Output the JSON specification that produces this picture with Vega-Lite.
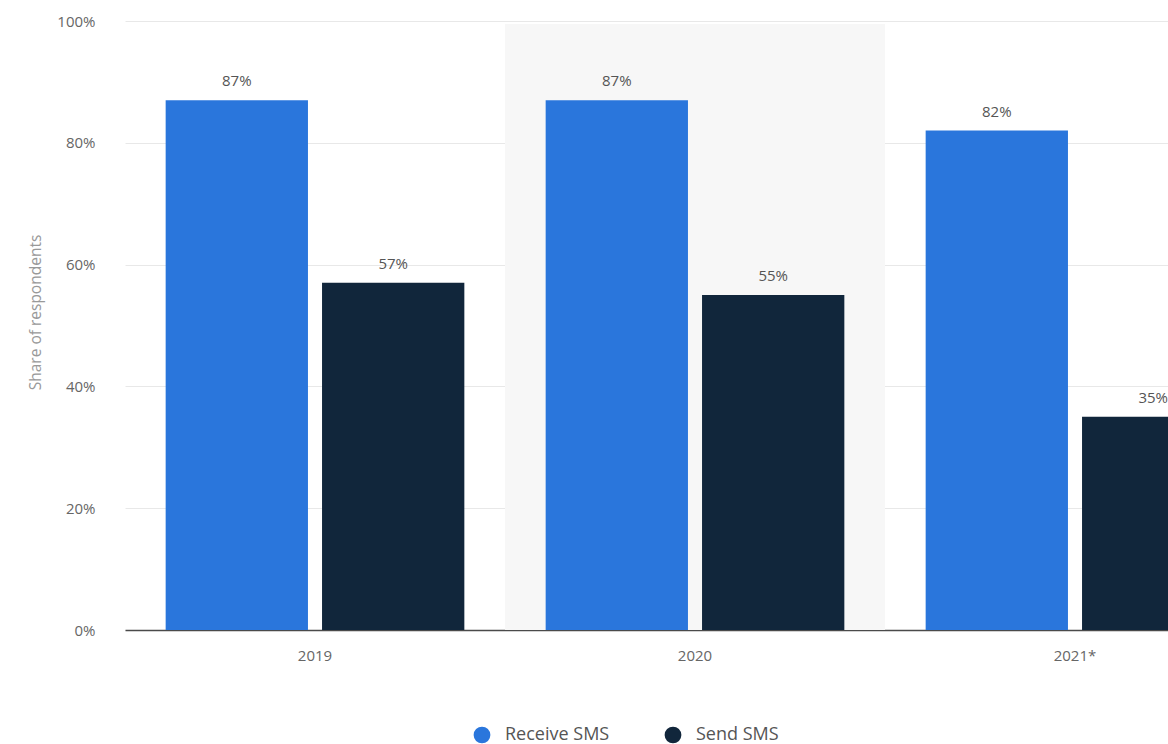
{
  "$schema": "https://vega.github.io/schema/vega-lite/v6.json",
  "width": 1043,
  "height": 609,
  "autosize": {"type": "none"},
  "padding": {"left": 125, "top": 21, "right": 0, "bottom": 114},
  "background": "white",
  "config": {"font": "Open Sans", "view": {"stroke": null}},
  "data": {
    "values": [
      {"year": "2019", "measure": "Receive SMS", "share": 0.87},
      {"year": "2019", "measure": "Send SMS", "share": 0.57},
      {"year": "2020", "measure": "Receive SMS", "share": 0.87},
      {"year": "2020", "measure": "Send SMS", "share": 0.55},
      {"year": "2021*", "measure": "Receive SMS", "share": 0.82},
      {"year": "2021*", "measure": "Send SMS", "share": 0.35}
    ]
  },
  "encoding": {
    "x": {
      "field": "year",
      "type": "nominal",
      "sort": ["2019", "2020", "2021*"],
      "scale": {"domain": ["2019", "2020", "2021*"], "range": [0, 1140], "paddingInner": 0, "paddingOuter": 0},
      "axis": {
        "title": null,
        "labelAngle": 0,
        "ticks": false,
        "grid": false,
        "domainColor": "#4a4a4a",
        "domainWidth": 1.5,
        "labelColor": "#666",
        "labelFontSize": 15,
        "labelPadding": 18
      }
    }
  },
  "layer": [
    {
      "transform": [{"filter": "datum.year == '2020'"}],
      "mark": {"type": "bar", "color": "#f7f7f7"},
      "encoding": {
        "y": {
          "datum": 0.995,
          "type": "quantitative",
          "scale": {"domain": [0, 1]},
          "axis": {
            "title": "Share of respondents",
            "format": ".0%",
            "values": [0, 0.2, 0.4, 0.6, 0.8, 1],
            "domain": false,
            "ticks": false,
            "grid": true,
            "labelPadding": 30,
            "labelColor": "#666",
            "labelFontSize": 15,
            "titleColor": "#999",
            "titleFontSize": 15.5,
            "titleFontWeight": "normal",
            "titlePadding": 13,
            "titleY": 291,
            "gridColor": "#e8e8e8"
          }
        },
        "y2": {"datum": 0}
      }
    },
    {
      "mark": {"type": "bar", "clip": true},
      "encoding": {
        "xOffset": {
          "field": "measure",
          "type": "nominal",
          "sort": ["Receive SMS", "Send SMS"],
          "scale": {"paddingInner": 0.09, "paddingOuter": 0.26}
        },
        "y": {
          "field": "share",
          "type": "quantitative",
          "scale": {"domain": [0, 1]},
          "axis": {
            "title": "Share of respondents",
            "format": ".0%",
            "values": [0, 0.2, 0.4, 0.6, 0.8, 1],
            "domain": false,
            "ticks": false,
            "grid": true,
            "labelPadding": 30,
            "labelColor": "#666",
            "labelFontSize": 15,
            "titleColor": "#999",
            "titleFontSize": 15.5,
            "titleFontWeight": "normal",
            "titlePadding": 13,
            "titleY": 291,
            "gridColor": "#e8e8e8"
          }
        },
        "color": {
          "field": "measure",
          "type": "nominal",
          "scale": {"domain": ["Receive SMS", "Send SMS"], "range": ["#2a76dc", "#11263b"]},
          "legend": {
            "orient": "none",
            "legendX": 348,
            "legendY": 705,
            "direction": "horizontal",
            "title": null,
            "symbolType": "circle",
            "symbolSize": 280,
            "symbolOpacity": 1,
            "symbolStrokeWidth": 0,
            "labelFontSize": 18,
            "labelColor": "#555",
            "columnPadding": 54,
            "labelOffset": 14,
            "padding": 0
          }
        }
      }
    },
    {
      "mark": {"type": "text", "baseline": "alphabetic", "dy": -14, "fontSize": 15, "color": "#555", "clip": true},
      "encoding": {
        "xOffset": {
          "field": "measure",
          "type": "nominal",
          "sort": ["Receive SMS", "Send SMS"],
          "scale": {"paddingInner": 0.09, "paddingOuter": 0.26}
        },
        "y": {"field": "share", "type": "quantitative"},
        "text": {"field": "share", "type": "quantitative", "format": ".0%"}
      }
    }
  ]
}
